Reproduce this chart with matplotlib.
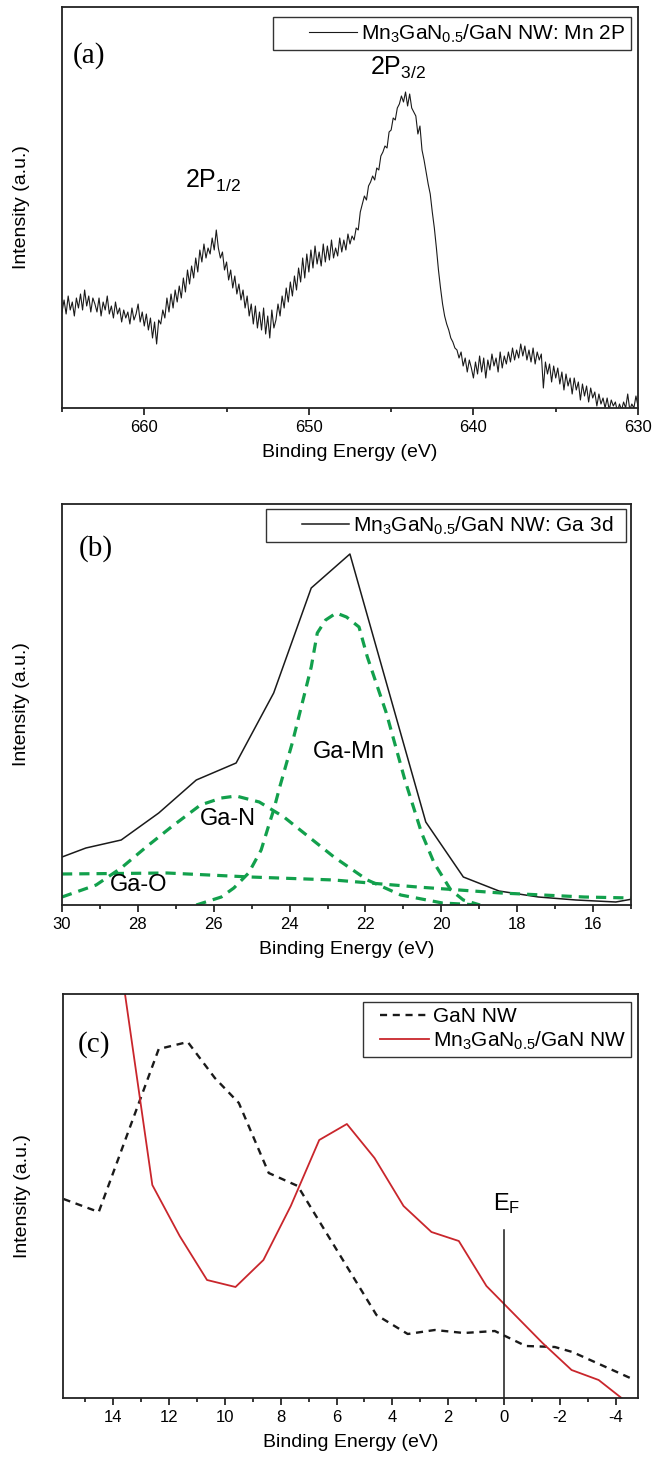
import numpy as np
import matplotlib
matplotlib.use('Agg')
import matplotlib.pyplot as plt
from matplotlib.ticker import MultipleLocator
from matplotlib.legend_handler import HandlerLine2D

plt.rcParams['font.family'] = ['Liberation Sans', 'DejaVu Sans']
plt.rcParams['mathtext.fontset'] = 'custom'
plt.rcParams['mathtext.rm'] = 'Liberation Sans'
plt.rcParams['mathtext.default'] = 'regular'
plt.rcParams['axes.unicode_minus'] = False

# ---------- (a) Mn 2p XPS spectrum, 0.125 eV steps from 665 to 630 eV ----------
mn2p_start, mn2p_stop, mn2p_step = 665.0, 630.0, 0.125
mn2p_intensity = [
    96, 108, 94, 112, 98, 106, 92, 110,
    100, 114, 98, 118, 102, 112, 96, 110,
    104, 96, 110, 92, 106, 98, 112, 94,
    102, 90, 106, 94, 100, 86, 98, 90,
    96, 84, 100, 88, 94, 104, 86, 96,
    82, 94, 78, 90, 70, 86, 64, 88,
    84, 98, 90, 110, 96, 114, 100, 118,
    106, 122, 110, 130, 116, 138, 124, 142,
    130, 150, 136, 158, 146, 164, 150, 160,
    154, 170, 158, 178, 160, 150, 156, 138,
    146, 128, 138, 120, 132, 114, 124, 108,
    118, 100, 112, 92, 104, 84, 102, 80,
    96, 78, 100, 74, 92, 70, 98, 80,
    88, 104, 92, 112, 100, 120, 106, 126,
    112, 132, 118, 140, 126, 150, 130, 154,
    136, 158, 140, 162, 144, 156, 142, 164,
    146, 162, 148, 168, 150, 160, 152, 170,
    156, 168, 158, 174, 164, 172, 168, 180,
    178, 196, 204, 212, 208, 222, 226, 232,
    228, 240, 238, 252, 256, 262, 260, 276,
    278, 290, 288, 300, 304, 312, 306, 316,
    302, 314, 300, 296, 292, 274, 282, 258,
    248, 236, 224, 214, 196, 180, 160, 138,
    120, 104, 92, 84, 78, 70, 66, 60,
    58, 50, 56, 42, 50, 36, 48, 40,
    30, 46, 34, 52, 36, 50, 30, 48,
    38, 54, 42, 50, 36, 56, 40, 52,
    44, 56, 46, 60, 48, 58, 50, 64,
    52, 62, 48, 58, 46, 60, 44, 56,
    48, 54, 20, 46, 34, 44, 26, 42,
    30, 40, 24, 36, 18, 34, 22, 30,
    14, 30, 18, 26, 8, 24, 12, 22,
    6, 20, 10, 16, 2, 14, 4, 10,
    0, 10, -2, 8, 2, 6, -4, 4,
    -2, 6, 0, 14, -2, 4, 0, 12,
    2,
]
mn2p_energy = np.arange(mn2p_start, mn2p_stop - 0.01, -mn2p_step)[:len(mn2p_intensity)]

# ---------- (b) Ga 3d spectrum and fitted components ----------
ga3d_energy = [30.0, 29.37, 28.44, 27.45, 26.46, 25.41, 24.42, 23.43, 22.41,
               20.41, 19.42, 18.48, 17.44, 16.45, 15.40, 14.96]
ga3d_intensity = [48, 57, 65, 92, 125, 142, 212, 317, 351,
                  83, 28, 14, 8, 5, 3, 6]

gamn_energy = [26.46, 25.8, 25.47, 25.08, 24.75, 24.53, 24.42, 24.26, 23.93, 23.6,
               23.43, 23.27, 23.05, 22.77, 22.5, 22.17, 21.95, 21.45, 20.96, 20.52,
               20.19, 19.75, 19.42, 18.98]
gamn_intensity = [0, 8, 17, 32, 55, 82, 95, 118, 162, 212,
                  238, 272, 285, 292, 288, 278, 248, 192, 125, 72,
                  42, 15, 5, 0]

gan_energy = [30.0, 29.1, 28.44, 27.78, 27.12, 26.35, 25.8, 25.41, 24.8, 24.15,
              23.49, 22.83, 21.95, 21.07, 19.97, 19.0]
gan_intensity = [8, 20, 37, 58, 78, 100, 107, 109, 103, 88,
                 68, 48, 25, 10, 2, 0]

gao_energy = [30.0, 27.23, 25.03, 22.83, 20.63, 18.43, 16.23, 15.0]
gao_intensity = [31, 32, 28, 25, 18, 12, 8, 7]

# ---------- (c) valence band spectra ----------
vb_gan_energy = [15.78, 14.52, 12.37, 11.33, 10.36, 9.5, 8.43, 7.39, 4.57, 3.45,
                 2.48, 1.44, 0.33, -0.78, -1.82, -2.45, -4.6]
vb_gan_intensity = [199, 186, 349, 356, 320, 295, 225, 212, 83, 64,
                    68, 65, 67, 52, 51, 46, 19]

vb_mn_energy = [13.62, 12.6, 11.62, 10.64, 9.62, 8.62, 7.64, 6.62, 5.63, 4.64,
                3.6, 2.6, 1.62, 0.63, -1.38, -2.42, -3.39, -4.3]
vb_mn_intensity = [412, 213, 162, 118, 111, 138, 192, 258, 274, 240,
                   192, 166, 157, 112, 55, 28, 18, -2]

fermi_level = 0.0
fermi_top = 168

legend_a = 'Mn$_3$GaN$_{0.5}$/GaN NW: Mn 2P '
legend_b = 'Mn$_3$GaN$_{0.5}$/GaN NW: Ga 3d  '
legend_c = ['GaN NW', 'Mn$_3$GaN$_{0.5}$/GaN NW']

GREEN = '#12a04c'
RED = '#c9262c'


def make_handler(frac):
    # Origin-style legend: the sample line sits in the right part of the handle box
    class OffsetLine(HandlerLine2D):
        def get_xdata(self, legend, xdescent, ydescent, width, height, fontsize):
            x0 = -xdescent
            return [x0 + frac * width, x0 + width], [x0 + 0.66 * width]
    return OffsetLine()


def style_axis(ax, major, minor):
    ax.set_yticks([])
    ax.xaxis.set_major_locator(MultipleLocator(major))
    ax.xaxis.set_minor_locator(MultipleLocator(minor))
    ax.tick_params(axis='x', which='major', direction='out', length=5, width=1.1,
                   labelsize=12, pad=4)
    ax.tick_params(axis='x', which='minor', direction='out', length=3, width=1.1)
    for s in ax.spines.values():
        s.set_linewidth(1.3)
        s.set_color('#222222')
    ax.set_xlabel('Binding Energy (eV)', fontsize=14, labelpad=6)
    ax.set_ylabel('Intensity (a.u.)', fontsize=14)


def add_legend(ax, anchor, hlen, frac):
    leg = ax.legend(loc='upper right', bbox_to_anchor=anchor, borderaxespad=0,
                    fontsize=15, frameon=True, fancybox=False, framealpha=1,
                    edgecolor='#333333', handlelength=hlen, handletextpad=0.2,
                    borderpad=0.25, labelspacing=0.15,
                    handler_map={matplotlib.lines.Line2D: make_handler(frac)})
    leg.get_frame().set_linewidth(1.0)
    return leg


fig = plt.figure(figsize=(6.52, 14.63), dpi=100)

# ---------- panel (a) ----------
ax1 = fig.add_axes([62 / 652, 1 - 408 / 1463, 576 / 652, 401 / 1463])
ax1.plot(mn2p_energy, mn2p_intensity, color='#1a1a1a', lw=0.8, label=legend_a)
ax1.set_xlim(665, 630)
ax1.set_ylim(0, 401)
style_axis(ax1, 10, 5)
ax1.yaxis.set_label_coords(-0.055, 0.5)
add_legend(ax1, (0.988, 0.975), 3.75, 0.385)
ax1.text(657.5, 220, '2P$_{1/2}$', fontsize=18, ha='left', va='baseline')
ax1.text(646.3, 333, '2P$_{3/2}$', fontsize=18, ha='left', va='baseline')
ax1.text(0.019, 0.88, '(a)', transform=ax1.transAxes, fontsize=21,
         family='Liberation Serif', ha='left', va='center')

# ---------- panel (b) ----------
ax2 = fig.add_axes([62 / 652, 1 - 905 / 1463, 569 / 652, 401 / 1463])
ax2.plot(ga3d_energy, ga3d_intensity, color='#1a1a1a', lw=1.1, label=legend_b)
for e, v in [(gamn_energy, gamn_intensity), (gan_energy, gan_intensity),
             (gao_energy, gao_intensity)]:
    ax2.plot(e, v, color=GREEN, lw=2.3, linestyle=(0, (3.2, 2.2)))
ax2.set_xlim(30, 15)
ax2.set_ylim(0, 401)
style_axis(ax2, 2, 1)
ax2.yaxis.set_label_coords(-0.056, 0.5)
add_legend(ax2, (0.991, 0.9875), 3.75, 0.40)
ax2.text(23.38, 147, 'Ga-Mn', fontsize=17, ha='left', va='baseline')
ax2.text(26.37, 80, 'Ga-N', fontsize=17, ha='left', va='baseline')
ax2.text(28.75, 14, 'Ga-O', fontsize=17, ha='left', va='baseline')
ax2.text(0.03, 0.89, '(b)', transform=ax2.transAxes, fontsize=21,
         family='Liberation Serif', ha='left', va='center')

# ---------- panel (c) ----------
ax3 = fig.add_axes([63 / 652, 1 - 1398 / 1463, 575 / 652, 404 / 1463])
ax3.plot(vb_gan_energy, vb_gan_intensity, color='#1a1a1a', lw=1.7,
         linestyle=(0, (3, 2.4)), label=legend_c[0])
ax3.plot(vb_mn_energy, vb_mn_intensity, color=RED, lw=1.3, label=legend_c[1])
ax3.plot([fermi_level, fermi_level], [0, fermi_top], color='#1a1a1a', lw=1.1)
ax3.set_xlim(15.8, -4.8)
ax3.set_ylim(0, 404)
style_axis(ax3, 2, 1)
ax3.yaxis.set_label_coords(-0.056, 0.5)
add_legend(ax3, (0.988, 0.980), 2.9, 0.2)
ax3.text(0.40, 188, 'E$_F$', fontsize=17, ha='left', va='baseline')
ax3.text(0.026, 0.876, '(c)', transform=ax3.transAxes, fontsize=21,
         family='Liberation Serif', ha='left', va='center')

fig.savefig('out.png', dpi=100)
